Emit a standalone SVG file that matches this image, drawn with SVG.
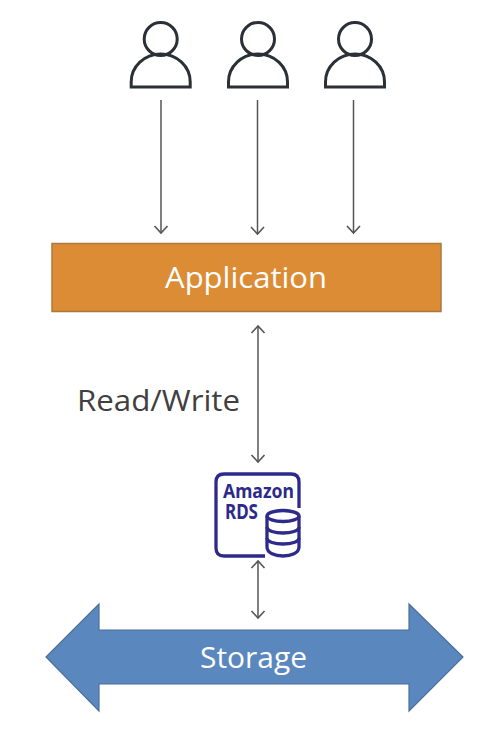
<svg xmlns="http://www.w3.org/2000/svg" width="498" height="738" viewBox="0 0 498 738">
<style>
.c{fill:none;stroke:#555;stroke-width:1.500}
.p{fill:none;stroke:#2b2f36;stroke-width:3}
.i{fill:none;stroke:#2e2a8c;stroke-width:3.300}
.t{font-family:"Open Sans","Noto Sans","Liberation Sans",sans-serif;text-anchor:middle;fill:#fff;font-size:30px}
.r{font-family:"Noto Sans","Open Sans",sans-serif;font-weight:700;fill:#2e2a8c}
</style>
<defs>
<marker id="a" markerUnits="userSpaceOnUse" markerWidth="18" markerHeight="18" refX="15" refY="9" orient="auto-start-reverse"><path d="M8 2.500L15 9L8 15.500" fill="none" stroke="#555" stroke-width="1.600"/></marker>
<g id="person"><circle cx="0" cy="39" r="16.500" class="p"/><path d="M-29.500 87V82A29.500 28 0 0 1 29.500 82V87Z" class="p"/></g>
</defs>
<rect width="498" height="738" fill="#fff"/>
<g id="connectors">
<path class="c" marker-end="url(#a)" d="M161 100V233"/>
<path class="c" marker-end="url(#a)" d="M257.500 100V234"/>
<path class="c" marker-end="url(#a)" d="M353.500 100V233"/>
<path class="c" marker-start="url(#a)" marker-end="url(#a)" d="M258 326V462"/>
<path class="c" marker-start="url(#a)" marker-end="url(#a)" d="M258 561V618"/>
</g>
<g id="user1"><use href="#person" x="160.700"/></g>
<g id="user2"><use href="#person" x="258"/></g>
<g id="user3"><use href="#person" x="355"/></g>
<g id="application"><rect x="52" y="243.500" width="389" height="68" fill="#dc8c35" stroke="#a97a3e" stroke-width="1.500"/><text class="t" x="246" y="288" textLength="162" lengthAdjust="spacingAndGlyphs">Application</text></g>
<g id="readwrite"><text x="158.500" y="411" font-family="Open Sans,Noto Sans,sans-serif" font-size="30" fill="#404040" text-anchor="middle" textLength="163" lengthAdjust="spacingAndGlyphs">Read/Write</text></g>
<g id="rds">
<path class="i" d="M265 556H224Q216 556 216 548V482Q216 474 224 474H291Q299 474 299 482V508"/>
<text class="r" font-size="20" x="223" y="498" textLength="71" lengthAdjust="spacingAndGlyphs">Amazon</text>
<text class="r" font-size="22" x="225" y="519" textLength="33" lengthAdjust="spacingAndGlyphs">RDS</text>
<path class="i" d="M267 516V547C267 559 299 559 299 547V516"/>
<ellipse class="i" cx="283" cy="516" rx="16" ry="5.500"/>
<path class="i" d="M267 527C267 535 299 535 299 527M267 538C267 546 299 546 299 538"/>
</g>
<g id="storage"><path d="M46 657L99 604V630H409V604L463 657L409 711V684H99V711Z" fill="#5b87bf" stroke="#4a6f9c" stroke-width="1.200"/><text class="t" x="253.500" y="668" textLength="107" lengthAdjust="spacingAndGlyphs">Storage</text></g>
</svg>
